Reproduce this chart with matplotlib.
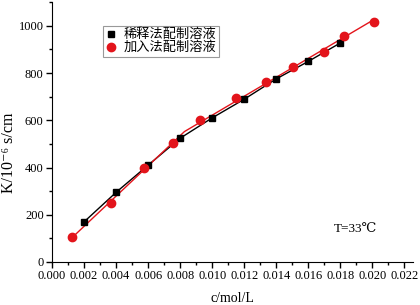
import matplotlib
matplotlib.use("Agg")
import matplotlib.pyplot as plt
import numpy as np
from matplotlib.ticker import MultipleLocator, FormatStrFormatter

# data
c_dilute = [0.002, 0.004, 0.006, 0.008, 0.010, 0.012, 0.014, 0.016, 0.018]
k_dilute = [170, 295, 410, 524, 610, 689, 775, 849, 927]

c_add = [0.00127, 0.00365, 0.00573, 0.00758, 0.00927, 0.01148, 0.01338, 0.01506, 0.01698, 0.01825, 0.02008]
k_add = [105, 251, 400, 503, 602, 696, 764, 826, 890, 958, 1018]

labels = ['稀释法配制溶液', '加入法配制溶液']
red = '#e3141b'
serif = ['Liberation Serif', 'DejaVu Serif']
cjk = ['Noto Sans CJK SC', 'DejaVu Sans']

fig = plt.figure(figsize=(4.2, 3.05), dpi=100)
ax = fig.add_axes([0.124, 0.141, 0.86, 0.852])

# red curve: two straight fits, below and above the break
ca = np.array(c_add)
ka = np.array(k_add)
low = ca < 0.0077
high = ca > 0.0074
p1 = np.polyfit(ca[low], ka[low], 1)
p2 = np.polyfit(ca[high], ka[high], 1)
xb = (p2[1] - p1[1]) / (p1[0] - p2[0])
xr = np.array([ca[0], xb, ca[-1]])
yr = np.where(xr <= xb, np.polyval(p1, xr), np.polyval(p2, xr))

ax.plot(c_dilute, k_dilute, color='black', lw=1.0, zorder=2)
ax.plot(xr, yr, color=red, lw=1.0, zorder=2)
ax.plot(c_dilute, k_dilute, 's', color='black', ms=4.8, ls='none', label=labels[0], zorder=3)
ax.plot(c_add, k_add, 'o', color=red, ms=6, ls='none', label=labels[1], zorder=3)

ax.set_xlim(0, 0.02256)
ax.set_ylim(0, 1100)
ax.spines['top'].set_visible(False)
ax.spines['right'].set_visible(False)
ax.xaxis.set_major_locator(MultipleLocator(0.002))
ax.xaxis.set_minor_locator(MultipleLocator(0.001))
ax.xaxis.set_major_formatter(FormatStrFormatter('%.3f'))
ax.yaxis.set_major_locator(MultipleLocator(200))
ax.yaxis.set_minor_locator(MultipleLocator(100))
ax.tick_params(which='major', direction='out', length=4, width=1, labelsize=9, pad=2)
ax.tick_params(which='minor', direction='out', length=2.5, width=1)
for t in ax.get_xticklabels() + ax.get_yticklabels():
    t.set_family(serif)

ax.set_xlabel('c/mol/L', family=serif, fontsize=10, labelpad=7)
ax.set_ylabel('K/10⁻⁶ s/cm', family=serif, fontsize=11.5)
ax.yaxis.set_label_coords(-0.098, 0.42)
ax.text(0.0176, 140, 'T=33℃', family=serif, fontsize=9.5, va='center')

leg = ax.legend(loc='upper left', bbox_to_anchor=(0.142, 0.91), prop={'family': cjk, 'size': 9.5},
                frameon=True, fancybox=False, handlelength=0.8, handletextpad=0.5,
                borderpad=0.2, labelspacing=0.0, borderaxespad=0)
leg.get_frame().set_edgecolor('#808080')
leg.get_frame().set_linewidth(0.8)

fig.savefig('out.png', dpi=100)
